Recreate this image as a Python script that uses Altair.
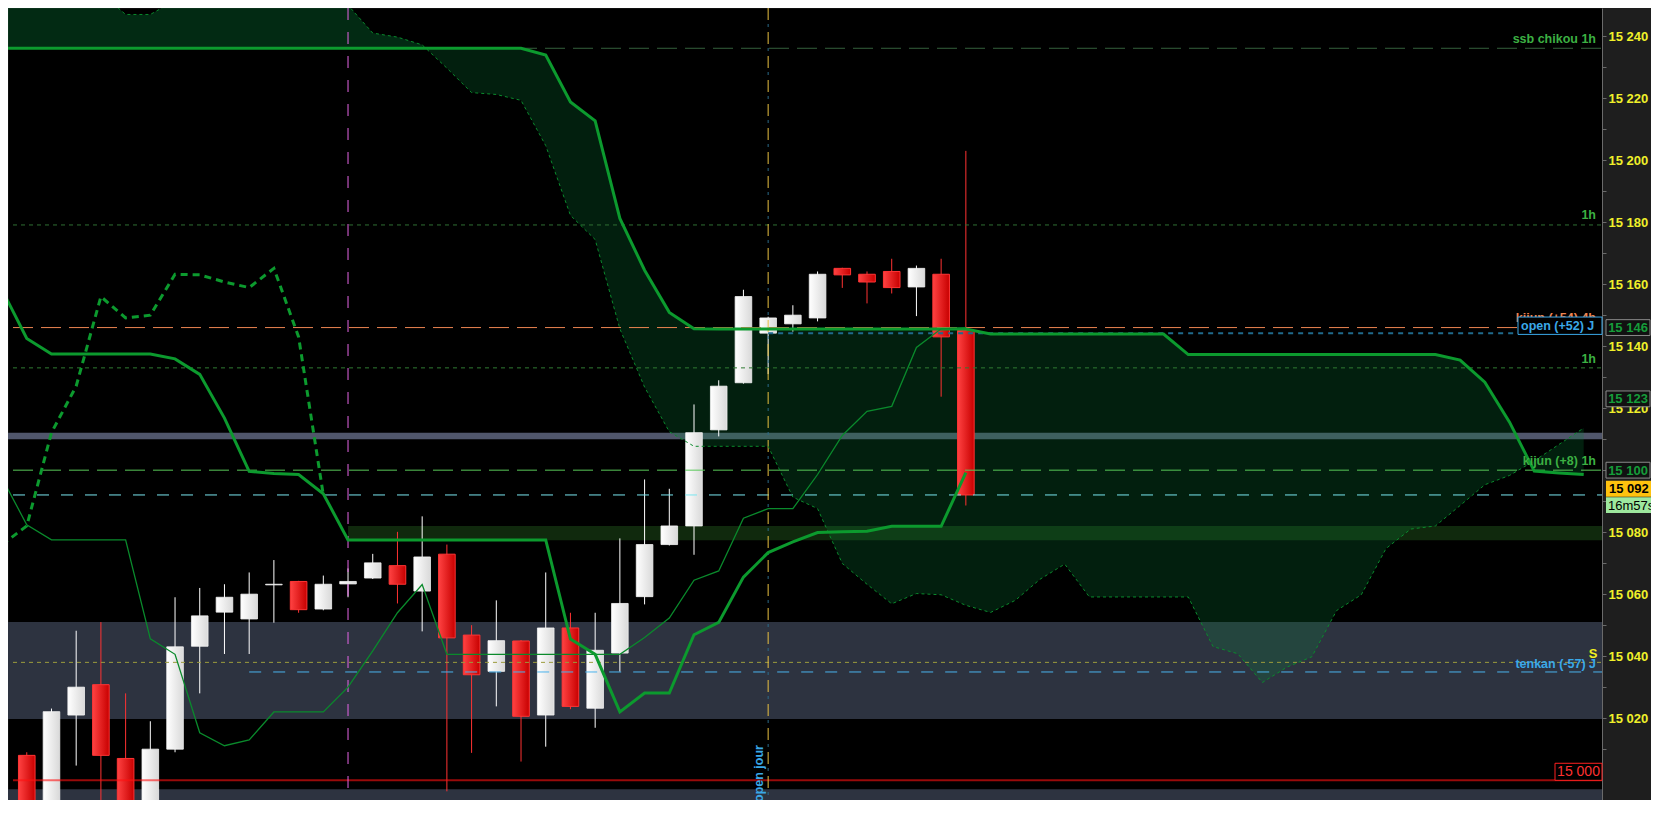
import altair as alt
import pandas as pd

W, H = 1594, 792
AXW = 49
Y_DOMAIN = [14993.6, 15249.09]
X_DOMAIN = [-0.5567, 63.539]

# ---------------- candles (bar index, OHLC) ----------------
bar_index = list(range(39))
open_ = [15008, 14988, 15021, 15030.8, 15007, 14990, 15010, 15043.2, 15054.2, 15052,
         15063, 15064.1, 15055.2, 15063.3, 15065.2, 15069.2, 15061, 15072.9, 15046.8, 15035.1,
         15044.9, 15021, 15049.1, 15023.2, 15041, 15059.2, 15076, 15082, 15113, 15128.2,
         15144.2, 15147.2, 15149.1, 15165.1, 15163.2, 15164.1, 15159.1, 15163.2, 15145.1]
high = [15009, 15023.1, 15048.2, 15051, 15028, 15019, 15059, 15062, 15063.2, 15067,
        15071, 15064.3, 15066, 15068.3, 15073, 15080.1, 15085.1, 15076, 15050, 15058,
        15045.2, 15067, 15054, 15054, 15078, 15097, 15094, 15121.2, 15129, 15158.2,
        15149.5, 15153.2, 15164.1, 15165.3, 15164.1, 15168.2, 15166, 15168.2, 15203]
low = [14980, 14980, 15004.7, 14980, 14980, 14982, 15009, 15028, 15040.7, 15040.7,
       15050.8, 15054, 15054.8, 15059, 15064.9, 15057, 15048, 14996.4, 15008.8, 15023.8,
       15006, 15010.8, 15022.9, 15016.9, 15035, 15056.7, 15075.7, 15072.7, 15110.9, 15127.9,
       15131, 15144.7, 15148, 15158.8, 15153.8, 15157, 15149.7, 15123.7, 15088.6]
close = [14985, 15022.1, 15030, 15008, 14988, 15010, 15043, 15053, 15059, 15060,
         15063.2, 15055, 15063.2, 15064.1, 15070.1, 15063.2, 15072, 15045.9, 15034, 15045,
         15020.6, 15049.1, 15023.8, 15041.9, 15057, 15076, 15082, 15112.1, 15127.1, 15156,
         15149.1, 15150, 15163.2, 15163, 15160.7, 15158.9, 15165.1, 15143, 15092]

# ---------------- ichimoku ----------------
line_index = list(range(-1, 39))
tenkan = [15097.4, 15082.4, 15077.5, 15077.5, 15077.5, 15077.5, 15045.6, 15040.6, 15015.3, 15011.1,
          15013.0, 15022.0, 15022.0, 15022.0, 15030.0, 15041.7, 15054.0, 15063.1, 15040.6, 15040.6,
          15040.6, 15040.6, 15040.6, 15040.6, 15040.6, 15040.6, 15046.0, 15052.3, 15064.5, 15067.5,
          15084.5, 15087.6, 15087.6, 15098.6, 15111.2, 15119.0, 15120.6, 15139.6, 15145.6, 15146.0]
kijun = [15158.2, 15142.5, 15137.5, 15137.5, 15137.5, 15137.5, 15137.5, 15135.9, 15130.9, 15116.8,
         15099.6, 15098.9, 15098.6, 15092.4, 15077.5, 15077.5, 15077.5, 15077.5, 15077.5, 15077.5,
         15077.5, 15077.5, 15077.5, 15045.5, 15040.6, 15022.0, 15028.1, 15028.1, 15046.9, 15050.9,
         15065.5, 15073.4, 15076.9, 15079.9, 15080.1, 15080.3, 15081.9, 15081.9, 15081.9, 15099.2]
chikou_shift = 26

cloud_index = list(range(-1, 64))
ssa = [15262, 15262, 15260, 15258, 15254, 15247, 15247, 15251.5, 15256, 15259,
       15260, 15259, 15257, 15254, 15250, 15241, 15239.7, 15237.2, 15229.7, 15221.8,
       15221.2, 15219.3, 15204.7, 15182.2, 15174.4, 15145.6, 15126.8, 15112.4, 15107.7, 15107.7,
       15107.7, 15107.7, 15091.3, 15087.6, 15069.9, 15063.2, 15056.9, 15060.2, 15059.8, 15056.4,
       15054.1, 15058.0, 15064.8, 15069.7, 15059.1, 15059.1, 15059.1, 15059.1, 15059.1, 15043.1,
       15040.8, 15031.5, 15036.5, 15039.8, 15054.7, 15059.8, 15074.7, 15081.0, 15082.0, 15088.6,
       15095.3, 15098.3, 15103.0, 15108.3, 15113.6]
ssb = [15236.1, 15236.1, 15236.1, 15236.1, 15236.1, 15236.1, 15236.1, 15236.1, 15236.1, 15236.1,
       15236.1, 15236.1, 15236.1, 15236.1, 15236.1, 15236.1, 15236.1, 15236.1, 15236.1, 15236.1,
       15236.1, 15236.1, 15233.9, 15218.8, 15212.7, 15181.2, 15164.5, 15150.9, 15145.6, 15145.5,
       15145.5, 15145.5, 15145.5, 15145.5, 15145.5, 15145.5, 15145.5, 15145.5, 15145.5, 15145.5,
       15143.9, 15143.9, 15143.9, 15143.9, 15143.9, 15143.9, 15143.9, 15143.9, 15137.3, 15137.3,
       15137.3, 15137.3, 15137.3, 15137.3, 15137.3, 15137.3, 15137.3, 15137.3, 15137.3, 15135.5,
       15128.4, 15115.5, 15099.7, 15099.1, 15098.6]
cloud_split_index = 16

# ---------------- levels and zones ----------------
ssb_chikou_level = 15236.1
upper_1h_level = 15179.1
kijun_4h_level = 15146.0
open_day_level = 15144.2
lower_1h_level = 15133.0
kijun_1h_level = 15100.0
price_level = 15092.0
support_level = 15038.0
tenkan_day_level = 15034.9
round_level = 15000.0

band_names = ["bande grise", "zone support", "zone basse"]
band_top = [15112.1, 15051.0, 14997.1]
band_bottom = [15110.0, 15019.7, 14980.0]
green_zone_top = 15082.0
green_zone_bottom = 15077.4

pink_index = 13
open_day_index = 30
tenkan_day_start = 9

axis_box_labels = ["15 146", "15 123", "15 100"]
axis_box_centers = [15146.0, 15123.0, 15100.0]
price_box_label = "15 092"
price_box_center = 15094.0
timer_label = "16m57s"
timer_center = 15088.7
open_box_label = "open (+52) J"
open_box_center = 15146.6
round_box_label = "15 000"
round_box_center = 15002.7

# ---------------- helpers ----------------
XS = alt.Scale(domain=X_DOMAIN, nice=False, zero=False)
YS = alt.Scale(domain=Y_DOMAIN, nice=False, zero=False)
FONT = "Liberation Sans"

AXIS = alt.Axis(
    orient="right", title="", values=list(range(15010, 15250, 10)),
    labelExpr="datum.value % 20 == 0 ? replace(format(datum.value, ','), ',', ' ') : ''",
    labelColor="#f0f02a", labelFont=FONT, labelFontSize=13, labelFontWeight="bold",
    labelPadding=2, labelOverlap=False, tickColor="#6a6a6a", tickSize=4,
    domainColor="#6a6a6a", grid=False, minExtent=AXW, maxExtent=AXW,
)


def X(f):
    return alt.X(f, type="quantitative", scale=XS, axis=None)


def Y(f):
    return alt.Y(f, type="quantitative", scale=YS, axis=AXIS)


layers = []

# bands (full width)
bands = pd.DataFrame({"name": band_names, "top": band_top, "bot": band_bottom})
layers.append(
    alt.Chart(bands).mark_rect(clip=True).encode(
        x=alt.value(0), x2=alt.value(W), y=Y("top:Q"), y2="bot:Q",
        color=alt.Color("name:N", legend=None,
                        scale=alt.Scale(domain=band_names, range=["#50566b", "#2d3340", "#2d3340"])),
    )
)
gz = pd.DataFrame({"xs": [pink_index], "top": [green_zone_top], "bot": [green_zone_bottom]})
layers.append(
    alt.Chart(gz).mark_rect(color="#10290d", clip=True).encode(
        x=X("xs:Q"), x2=alt.value(W), y=Y("top:Q"), y2="bot:Q")
)

# cloud
cloud = pd.DataFrame({"i": cloud_index, "a": ssa, "b": ssb})
layers.append(
    alt.Chart(cloud).transform_filter(f"datum.i <= {cloud_split_index}")
    .mark_area(color="#07823a", opacity=0.32, clip=True)
    .encode(x=X("i:Q"), y=Y("a:Q"), y2="b:Q")
)
layers.append(
    alt.Chart(cloud).transform_filter(f"datum.i >= {cloud_split_index}")
    .mark_area(color="#07823a", opacity=0.24, clip=True)
    .encode(x=X("i:Q"), y=Y("a:Q"), y2="b:Q")
)

# candles
cdf = pd.DataFrame({"i": bar_index, "o": open_, "h": high, "l": low, "c": close})
bull = "datum.c >= datum.o"
bear = "datum.c < datum.o"
white_grad = {"gradient": "linear", "x1": 0, "x2": 1, "y1": 0, "y2": 0,
              "stops": [{"offset": 0, "color": "#ffffff"}, {"offset": 1, "color": "#d9d9d9"}]}
red_grad = {"gradient": "linear", "x1": 0, "x2": 1, "y1": 0, "y2": 0,
            "stops": [{"offset": 0, "color": "#ff4242"}, {"offset": 1, "color": "#c80000"}]}
layers.append(alt.Chart(cdf).transform_filter(bull).mark_rule(color="#ffffff", strokeWidth=1, clip=True)
              .encode(x=X("i:Q"), y=Y("l:Q"), y2="h:Q"))
layers.append(alt.Chart(cdf).transform_filter(bear).mark_rule(color="#ff3232", strokeWidth=1, clip=True)
              .encode(x=X("i:Q"), y=Y("l:Q"), y2="h:Q"))
layers.append(alt.Chart(cdf).transform_filter(bull)
              .mark_bar(size=16.6, fill=white_grad, stroke="#f4f4f4", strokeWidth=0.8, clip=True)
              .encode(x=X("i:Q"), y=Y("o:Q"), y2="c:Q"))
layers.append(alt.Chart(cdf).transform_filter(bear)
              .mark_bar(size=16.6, fill=red_grad, stroke="#ff3535", strokeWidth=1, clip=True)
              .encode(x=X("i:Q"), y=Y("o:Q"), y2="c:Q"))


def hrule(level, color, dash=None, width=1.0, start=None, opacity=1.0):
    df = pd.DataFrame({"v": [level], "xs": [X_DOMAIN[0] if start is None else start]})
    props = dict(color=color, strokeWidth=width, opacity=opacity, clip=True)
    if dash:
        props["strokeDash"] = dash
    return alt.Chart(df).mark_rule(**props).encode(x=X("xs:Q"), x2=alt.value(W), y=Y("v:Q"))


layers += [
    hrule(ssb_chikou_level, "#35613c", [20, 8]),
    hrule(upper_1h_level, "#2f6e33", [4, 4]),
    hrule(kijun_4h_level, "#ec8552", [20, 8]),
    hrule(open_day_level, "#1f6a8c", [5, 5], width=2, start=open_day_index),
    hrule(lower_1h_level, "#2f7a33", [4, 4]),
    hrule(kijun_1h_level, "#58c858", [20, 8]),
    hrule(price_level, "#7ae6f0", [12, 12]),
    hrule(support_level, "#9c9c3c", [4, 4]),
    hrule(tenkan_day_level, "#4ab2ec", [12, 12], start=tenkan_day_start),
    hrule(round_level, "#ff1010", None, width=2, opacity=0.6),
]


def vrule(index, color, dash, offset=None, width=1.0):
    df = pd.DataFrame({"i": [index]})
    props = dict(color=color, strokeWidth=width, strokeDash=dash)
    if offset is not None:
        props["strokeDashOffset"] = offset
    return alt.Chart(df).mark_rule(**props).encode(x=X("i:Q"), y=alt.value(0), y2=alt.value(H))


layers += [
    vrule(pink_index, "#e666e6", [12, 12]),
    vrule(open_day_index, "#2a6a8a", [3, 21], offset=8),
    vrule(open_day_index, "#e8c040", [12, 12]),
]

# cloud edges
layers.append(alt.Chart(cloud).mark_line(color="#0a8a2c", strokeWidth=1, strokeDash=[3, 3], clip=True)
              .encode(x=X("i:Q"), y=Y("a:Q")))
layers.append(alt.Chart(cloud).mark_line(color="#0c9a2e", strokeWidth=3, clip=True)
              .encode(x=X("i:Q"), y=Y("b:Q")))

# tenkan, kijun, chikou
ldf = pd.DataFrame({"i": line_index, "t": tenkan, "k": kijun})
layers.append(alt.Chart(ldf).mark_line(color="#0a8a2c", strokeWidth=1.3, clip=True)
              .encode(x=X("i:Q"), y=Y("t:Q")))
layers.append(alt.Chart(ldf).mark_line(color="#0c9a2e", strokeWidth=3, clip=True)
              .encode(x=X("i:Q"), y=Y("k:Q")))
chik = pd.DataFrame({"i": [i - chikou_shift for i in bar_index[chikou_shift - 1:]],
                     "v": close[chikou_shift - 1:]})
layers.append(alt.Chart(chik).mark_line(color="#0c9a2e", strokeWidth=3, strokeDash=[7, 5], clip=True)
              .encode(x=X("i:Q"), y=Y("v:Q")))


def label(text, level, color, dy, x=W - 6, align="right", size=12.5, weight="bold"):
    df = pd.DataFrame({"t": [text], "v": [level]})
    return alt.Chart(df).mark_text(align=align, baseline="middle", dy=dy, color=color, font=FONT,
                                   fontSize=size, fontWeight=weight).encode(
        x=alt.value(x), y=Y("v:Q"), text="t:N")


layers += [
    label("ssb chikou 1h", ssb_chikou_level, "#3cb043", -9),
    label("1h", upper_1h_level, "#3cb043", -9.5),
    label("1h", lower_1h_level, "#3cb043", -9),
    label("kijun (+54) 4h", kijun_4h_level, "#ec8552", -9.5),
    label("kijun (+8) 1h", kijun_1h_level, "#3cb043", -9),
    label("tenkan (-57) J", tenkan_day_level, "#3aa8e8", -8),
    label("S", support_level, "#f0f020", -8.5, x=W - 9, align="center", size=13),
]

# open jour vertical label
oj = pd.DataFrame({"i": [open_day_index], "t": ["open jour"]})
layers.append(alt.Chart(oj).mark_text(angle=270, align="left", baseline="bottom", dy=-2,
                                      color="#3aa8e8", font=FONT, fontSize=12.5, fontWeight="bold")
              .encode(x=X("i:Q"), y=alt.value(H + 2), text="t:N"))


def boxes(labels, centers, x1, x2, fill, stroke, tcolor, tx, align="center", weight="bold",
          size=13, half=2.55):
    df = pd.DataFrame({"t": labels, "v": centers})
    rect_props = dict(fill=fill)
    if stroke:
        rect_props["stroke"] = stroke
        rect_props["strokeWidth"] = 1
    r = (alt.Chart(df).transform_calculate(top=f"datum.v + {half}", bot=f"datum.v - {half}")
         .mark_rect(**rect_props)
         .encode(x=alt.value(x1), x2=alt.value(x2), y=Y("top:Q"), y2="bot:Q"))
    t = (alt.Chart(df).mark_text(align=align, baseline="middle", dy=0.5, color=tcolor, font=FONT,
                                 fontSize=size, fontWeight=weight)
         .encode(x=alt.value(tx), y=Y("v:Q"), text="t:N"))
    return [r, t]


layers += boxes([open_box_label], [open_box_center], W - 84, W, "#000000", "#3aa8e8", "#3aa8e8",
                W - 81, align="left", size=12.5, half=2.8)
layers += boxes([round_box_label], [round_box_center], W - 47, W, "#000000", "#ff2020", "#ff3030",
                W - 23.5, weight="normal", size=14, half=2.75)
layers += boxes(axis_box_labels, axis_box_centers, W + 4, W + 48, "#111111", "#8a8a8a", "#169c3a",
                W + 26)
layers += boxes([price_box_label], [price_box_center], W + 4, W + AXW, "#ffc20e", None, "#000000",
                W + 7, align="left")
layers += boxes([timer_label], [timer_center], W + 4, W + AXW, "#9ee89e", None, "#000000",
                W + 6, align="left", weight="normal")

chart = (
    alt.layer(*layers)
    .properties(width=W, height=H, background="#1e1e1e",
                padding={"left": 0, "top": 0, "right": AXW, "bottom": 0},
                autosize=alt.AutoSizeParams(type="none"))
    .configure(font=FONT)
    .configure_view(fill="#000000", stroke="transparent")
)

chart.save("out.html", embed_options={"renderer": "svg", "actions": False})
